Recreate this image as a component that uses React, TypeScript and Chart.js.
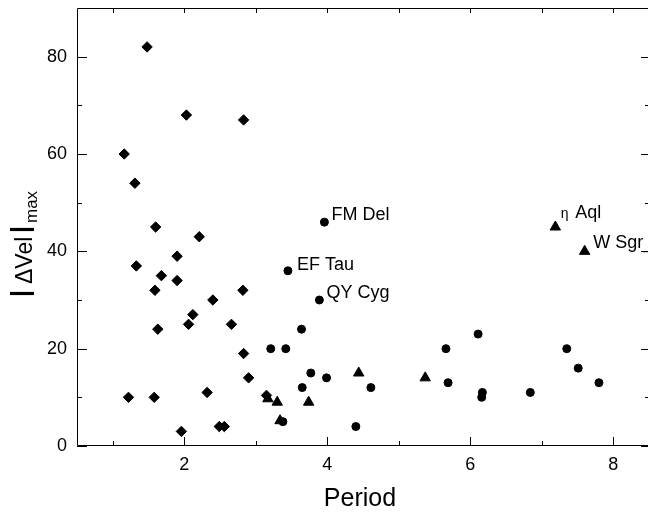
import React, { useEffect, useRef } from 'react';
import { Chart, registerables } from 'chart.js';

Chart.register(...registerables);

// Series 1: diamonds
const diamondPeriod = [1.48, 2.03, 2.83, 1.16, 1.31, 1.60, 2.21, 1.90, 1.33, 1.68, 1.90, 1.59, 2.82, 2.40, 2.12, 2.06, 2.66, 1.63, 2.83, 2.90, 2.32, 1.22, 1.58, 3.15, 2.49, 2.56, 1.96];
const diamondVel = [82, 68, 67, 60, 54, 45, 43, 39, 37, 35, 34, 32, 32, 30, 27, 25, 25, 24, 19, 14, 11, 10, 10, 10.4, 4, 4, 3];

// Series 2: circles
const circlePeriod = [3.96, 3.45, 3.89, 3.64, 3.21, 3.42, 3.77, 3.65, 3.99, 3.38, 4.61, 4.40, 5.66, 5.69, 6.11, 6.17, 6.16, 6.84, 7.35, 7.51, 7.80];
const circleVel = [46, 36, 30, 24, 20, 20, 15, 12, 14, 5, 12, 4, 20, 13, 23, 11, 10, 11, 20, 16, 13];

// Series 3: triangles
const trianglePeriod = [7.19, 7.60, 4.44, 5.37, 3.74, 3.30, 3.17, 3.34];
const triangleVel = [45, 40, 15, 14, 9, 9, 9.7, 5.2];

// Named stars
const starNames = ['FM Del', 'EF Tau', 'QY Cyg', 'η Aql', 'W Sgr_'];
const starPeriod = [3.96, 3.45, 3.89, 7.19, 7.60];
const starVel = [46, 36, 30, 45, 40];

// Axis ticks
const xTickLabels = [2, 4, 6, 8];
const xMinorTicks = [1, 3, 5, 7];
const yTickLabels = [0, 20, 40, 60, 80];
const yMinorTicks = [10, 30, 50, 70];

const FONT = '"Liberation Sans", Arial, Helvetica, sans-serif';

const labelOffsets: Record<string, [number, number]> = {
  'FM Del': [7, -2],
  'EF Tau': [9, -1],
  'QY Cyg': [7, -2.5],
  'η Aql': [5.5, -9.5],
  'W Sgr_': [8.5, -3],
};

const decorPlugin = {
  id: 'decor',
  afterDraw(chart: any) {
    const ctx = chart.ctx as CanvasRenderingContext2D;
    const { left, right, top, bottom } = chart.chartArea;
    const xs = chart.scales.x;
    const ys = chart.scales.y;
    ctx.save();
    ctx.strokeStyle = '#000';
    ctx.lineWidth = 1;
    ctx.beginPath();
    ctx.rect(left + 0.5, top + 0.5, right - left - 1, bottom - top - 1);
    ctx.stroke();

    ctx.beginPath();
    const tickX = (v: number, major: boolean) => {
      const px = Math.round(xs.getPixelForValue(v)) + 0.5;
      ctx.moveTo(px, bottom);
      ctx.lineTo(px, bottom - (major ? 9 : 5));
      ctx.moveTo(px, top);
      ctx.lineTo(px, top + 5);
    };
    const tickY = (v: number, major: boolean) => {
      const py = Math.round(ys.getPixelForValue(v)) + 0.5;
      ctx.moveTo(left, py);
      ctx.lineTo(left + (major ? 10 : 5), py);
      ctx.moveTo(right, py);
      ctx.lineTo(right - (major ? 8 : 4), py);
    };
    xTickLabels.forEach((v) => tickX(v, true));
    xMinorTicks.forEach((v) => tickX(v, false));
    yTickLabels.forEach((v) => tickY(v, true));
    yMinorTicks.forEach((v) => tickY(v, false));
    ctx.stroke();

    // star labels
    ctx.fillStyle = '#000';
    ctx.textAlign = 'left';
    ctx.textBaseline = 'alphabetic';
    starNames.forEach((name, i) => {
      const px = xs.getPixelForValue(starPeriod[i]);
      const py = ys.getPixelForValue(starVel[i]);
      const [dx, dy] = labelOffsets[name] || [7, -2];
      if (name.startsWith('η')) {
        ctx.font = `14px ${FONT}`;
        ctx.fillText('η', px + dx, py + dy);
        ctx.font = `18px ${FONT}`;
        ctx.fillText(name.slice(2), px + dx + 14.5, py + dy);
      } else {
        ctx.font = `18px ${FONT}`;
        ctx.fillText(name, px + dx, py + dy);
      }
    });

    // x title
    ctx.textAlign = 'center';
    ctx.font = `25px ${FONT}`;
    ctx.fillText('Period', 360, 506);

    // y title, rotated
    ctx.save();
    ctx.translate(32, 297);
    ctx.rotate(-Math.PI / 2);
    ctx.textAlign = 'left';
    ctx.font = `bold 25px ${FONT}`;
    ctx.fillText('|', 0, -3);
    ctx.font = `23px ${FONT}`;
    ctx.fillText('ΔVel', 13, 0);
    ctx.font = `bold 25px ${FONT}`;
    ctx.fillText('|', 64, -3);
    ctx.font = `17px ${FONT}`;
    ctx.fillText('max', 74, 5);
    ctx.restore();

    ctx.restore();
  },
};

const toPoints = (xs: number[], ys: number[]) => xs.map((x, i) => ({ x, y: ys[i] }));

const zeroPadding = (scale: any) => {
  scale.paddingTop = 0;
  scale.paddingBottom = 0;
  scale.paddingLeft = 0;
  scale.paddingRight = 0;
};

export default function App() {
  const ref = useRef<HTMLCanvasElement>(null);
  useEffect(() => {
    if (!ref.current) return;
    const chart = new Chart(ref.current, {
      type: 'scatter',
      data: {
        datasets: [
          {
            label: 'diamonds',
            data: toPoints(diamondPeriod, diamondVel),
            pointStyle: 'rectRot',
            pointRadius: 5.2,
            backgroundColor: '#000',
            borderColor: '#000',
            borderWidth: 1,
          },
          {
            label: 'circles',
            data: toPoints(circlePeriod, circleVel),
            pointStyle: 'circle',
            pointRadius: 4,
            backgroundColor: '#000',
            borderColor: '#000',
            borderWidth: 1,
          },
          {
            label: 'triangles',
            data: toPoints(trianglePeriod, triangleVel),
            pointStyle: 'triangle',
            pointRadius: 6,
            backgroundColor: '#000',
            borderColor: '#000',
            borderWidth: 1,
          },
        ],
      },
      options: {
        responsive: false,
        animation: false,
        layout: { padding: { left: 0, top: 8, right: 3, bottom: 0 } },
        plugins: { legend: { display: false }, tooltip: { enabled: false } },
        scales: {
          x: {
            type: 'linear',
            min: 0.5,
            max: 8.5,
            grid: { display: false, drawTicks: false },
            border: { display: false },
            afterBuildTicks: (scale: any) => {
              scale.ticks = xTickLabels.map((v) => ({ value: v }));
            },
            afterFit: (scale: any) => {
              scale.height = 66;
              zeroPadding(scale);
            },
            ticks: {
              color: '#000',
              font: { family: FONT, size: 18 },
              padding: 8,
              maxRotation: 0,
              autoSkip: false,
            },
          },
          y: {
            type: 'linear',
            min: 0,
            max: 90,
            grid: { display: false, drawTicks: false },
            border: { display: false },
            afterBuildTicks: (scale: any) => {
              scale.ticks = yTickLabels.map((v) => ({ value: v }));
            },
            afterFit: (scale: any) => {
              scale.width = 77;
              zeroPadding(scale);
            },
            ticks: {
              color: '#000',
              font: { family: FONT, size: 18 },
              padding: 10,
              autoSkip: false,
            },
          },
        },
      },
      plugins: [decorPlugin],
    });
    return () => chart.destroy();
  }, []);
  return (
    <div style={{ position: 'fixed', left: 0, top: 0, width: 648, height: 512, overflow: 'hidden', background: '#fff' }}>
      <canvas ref={ref} width={656} height={512} style={{ display: 'block' }} />
    </div>
  );
}
